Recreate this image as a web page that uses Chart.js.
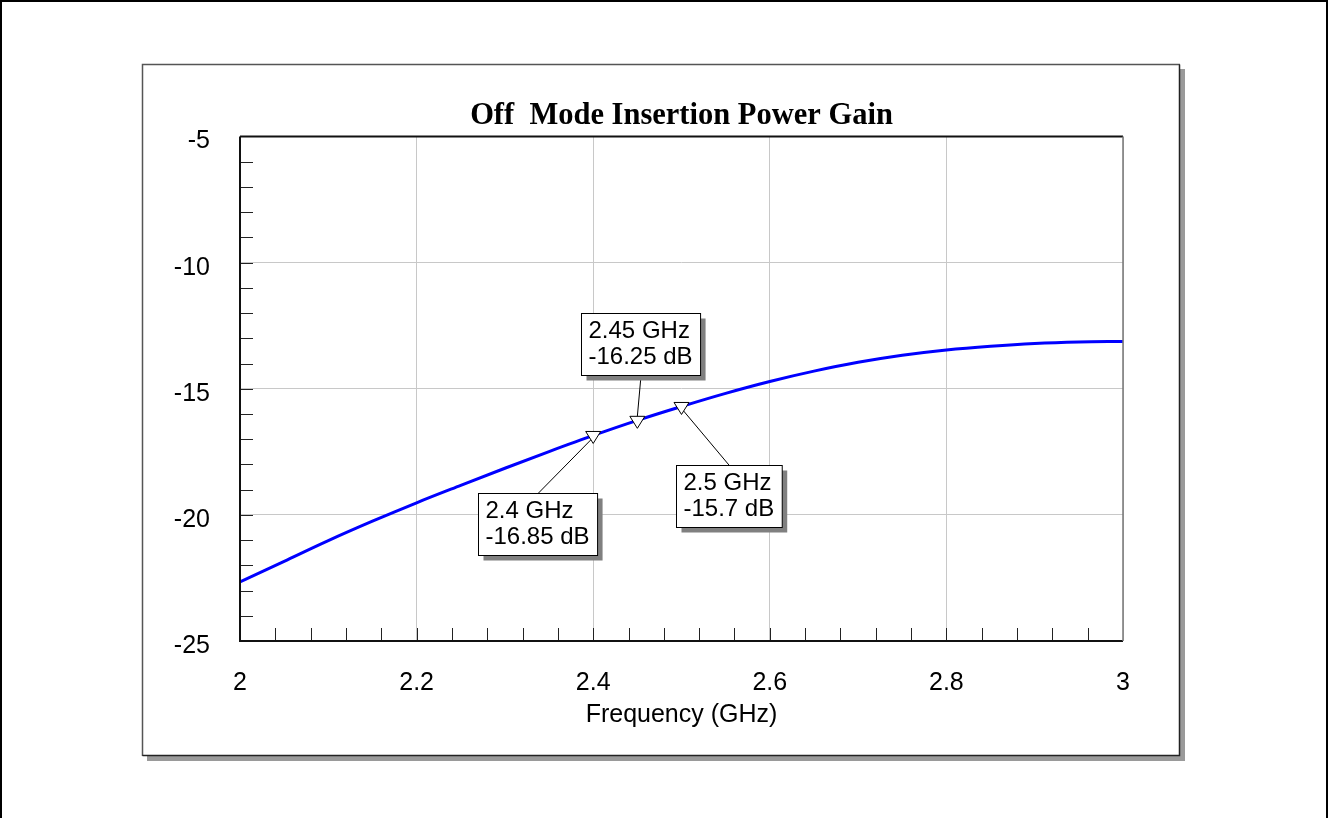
<!DOCTYPE html>
<html>
<head>
<meta charset="utf-8">
<script src="https://cdn.jsdelivr.net/npm/chart.js@4/dist/chart.umd.min.js"></script>
<style>
  body { margin: 0; background: #fff; }
  canvas { display: block; }
</style>
</head>
<body>
<canvas id="graph" width="1331" height="818"></canvas>
<script>
// curve data
const freqGHz = [2.00, 2.05, 2.10, 2.15, 2.20, 2.25, 2.30, 2.35, 2.40, 2.45, 2.50,
                 2.55, 2.60, 2.65, 2.70, 2.75, 2.80, 2.85, 2.90, 2.95, 3.00];
const gainDb = [-22.66, -21.84, -21.02, -20.25, -19.52, -18.83, -18.15, -17.49, -16.85, -16.25, -15.70,
                -15.18, -14.71, -14.30, -13.95, -13.67, -13.46, -13.31, -13.20, -13.14, -13.12];

// marker annotations
const markerFreq = [2.4, 2.45, 2.5];
const markerGain = [-16.85, -16.25, -15.7];
const markerText = [['2.4 GHz', '-16.85 dB'], ['2.45 GHz', '-16.25 dB'], ['2.5 GHz', '-15.7 dB']];
// where each label box sits, relative to its marker (px)
const boxOffset = [[-115, 58], [-56, -107], [-6, 59]];

const xMin = 2, xMax = 3, xStep = 0.2, xMinorStep = 0.04;
const yMin = -25, yMax = -5, yStep = 5, yMinorStep = 1;

const SANS = '"Liberation Sans", Arial, sans-serif';

// page border, framed panel with its shadow
const panelPlugin = {
    id: 'panel',
    beforeDraw(chart) {
        const ctx = chart.ctx;
        ctx.save();
        ctx.fillStyle = '#fff';
        ctx.fillRect(0, 0, chart.width, chart.height);
        ctx.strokeStyle = '#000';
        ctx.lineWidth = 2;
        ctx.beginPath();
        ctx.moveTo(1, chart.height);
        ctx.lineTo(1, 1);
        ctx.lineTo(1327, 1);
        ctx.lineTo(1327, chart.height);
        ctx.stroke();

        // shadow
        ctx.fillStyle = '#9a9a9a';
        ctx.fillRect(147, 69, 1038, 692);
        ctx.fillStyle = '#fff';
        ctx.fillRect(142, 64, 1038, 692);
        ctx.lineWidth = 1.5;
        ctx.strokeStyle = '#555';
        ctx.beginPath();
        ctx.moveTo(142.5, 756);
        ctx.lineTo(142.5, 64.5);
        ctx.lineTo(1180, 64.5);
        ctx.stroke();
        ctx.strokeStyle = '#222';
        ctx.beginPath();
        ctx.moveTo(1179.5, 64.5);
        ctx.lineTo(1179.5, 755.5);
        ctx.lineTo(142.5, 755.5);
        ctx.stroke();
        ctx.restore();
    },
    afterDatasetsDraw(chart) {
        const ctx = chart.ctx;
        const a = chart.chartArea;
        const xs = chart.scales.x, ys = chart.scales.y;
        ctx.save();

        // minor ticks, pointing inwards
        ctx.strokeStyle = '#222';
        ctx.lineWidth = 1;
        ctx.beginPath();
        for (let v = xMin + xMinorStep; v < xMax - 1e-6; v += xMinorStep) {
            const px = Math.round(xs.getPixelForValue(v)) + 0.5;
            ctx.moveTo(px, a.bottom);
            ctx.lineTo(px, a.bottom - 13);
        }
        for (let v = yMin + yMinorStep; v < yMax - 1e-6; v += yMinorStep) {
            const py = Math.round(ys.getPixelForValue(v)) + 0.5;
            ctx.moveTo(a.left, py);
            ctx.lineTo(a.left + 13, py);
        }
        ctx.stroke();

        // plot border
        ctx.lineWidth = 2;
        ctx.strokeStyle = '#111';
        ctx.beginPath();
        ctx.moveTo(a.left, a.top);
        ctx.lineTo(a.right, a.top);
        ctx.moveTo(a.left, a.top);
        ctx.lineTo(a.left, a.bottom);
        ctx.lineTo(a.right, a.bottom);
        ctx.stroke();
        ctx.strokeStyle = '#777';
        ctx.lineWidth = 1.5;
        ctx.beginPath();
        ctx.moveTo(a.right, a.top);
        ctx.lineTo(a.right, a.bottom);
        ctx.stroke();

        // markers with label boxes
        ctx.font = '24px ' + SANS;
        for (let i = 0; i < markerFreq.length; i++) {
            const px = xs.getPixelForValue(markerFreq[i]);
            const py = ys.getPixelForValue(markerGain[i]);
            const lines = markerText[i];
            const w = Math.max(...lines.map(t => ctx.measureText(t).width)) + 15;
            const h = 62;
            const bx = Math.round(px + boxOffset[i][0]) + 0.5;
            const by = Math.round(py + boxOffset[i][1]) + 0.5;
            const ax = bx + w / 2;
            const above = by + h < py;

            // leader line
            ctx.strokeStyle = '#000';
            ctx.lineWidth = 1;
            ctx.beginPath();
            ctx.moveTo(ax, above ? by + h : by);
            ctx.lineTo(px, above ? py - 4 : py + 2);
            ctx.stroke();

            // box shadow, box, text
            ctx.fillStyle = '#808080';
            ctx.fillRect(bx + 5, by + 5, w, h);
            ctx.fillStyle = '#fff';
            ctx.fillRect(bx, by, w, h);
            ctx.strokeRect(bx, by, w, h);
            ctx.fillStyle = '#000';
            ctx.textAlign = 'left';
            ctx.textBaseline = 'middle';
            ctx.fillText(lines[0], bx + 7, by + 18);
            ctx.fillText(lines[1], bx + 7, by + 44);

            // open down-pointing triangle
            ctx.fillStyle = '#fff';
            ctx.beginPath();
            ctx.moveTo(px - 7.5, py - 4);
            ctx.lineTo(px + 7.5, py - 4);
            ctx.lineTo(px, py + 8);
            ctx.closePath();
            ctx.fill();
            ctx.stroke();
        }
        ctx.restore();
    }
};

const ctx = document.getElementById('graph').getContext('2d');
window.chartx = new Chart(ctx, {
    type: 'line',
    data: {
        datasets: [{
            label: 'Gain',
            data: freqGHz.map((f, i) => ({ x: f, y: gainDb[i] })),
            borderColor: '#0000ff',
            borderWidth: 3,
            pointRadius: 0,
            cubicInterpolationMode: 'monotone',
            fill: false,
        }],
    },
    options: {
        responsive: false,
        animation: false,
        devicePixelRatio: 1,
        layout: {
            padding: { top: 80, right: 208, bottom: 0, left: 0 }
        },
        plugins: {
            legend: { display: false },
            tooltip: { enabled: false },
            title: {
                display: true,
                fullSize: false,
                text: 'Off  Mode Insertion Power Gain',
                color: '#000',
                font: { family: '"Liberation Serif", "Times New Roman", serif', size: 30.5, weight: 'bold' },
                padding: { top: 18, bottom: 2 },
            },
        },
        scales: {
            x: {
                type: 'linear',
                min: xMin,
                max: xMax,
                afterFit: (scale) => { scale.height = 177; },
                ticks: {
                    stepSize: xStep,
                    color: '#000',
                    padding: 27,
                    maxRotation: 0,
                    font: { family: SANS, size: 25 },
                    callback: (v) => String(Math.round(v * 10) / 10),
                },
                grid: { color: '#c8c8c8', lineWidth: 1, drawTicks: false },
                border: { display: false },
                title: {
                    display: true,
                    text: 'Frequency (GHz)',
                    color: '#000',
                    font: { family: SANS, size: 25 },
                    padding: { top: 0, bottom: 88 },
                },
            },
            y: {
                type: 'linear',
                min: yMin,
                max: yMax,
                afterFit: (scale) => { scale.width = 240; },
                ticks: {
                    stepSize: yStep,
                    color: '#000',
                    padding: 30,
                    labelOffset: 5,
                    font: { family: SANS, size: 25 },
                },
                grid: { color: '#c8c8c8', lineWidth: 1, drawTicks: false },
                border: { display: false },
            },
        },
    },
    plugins: [panelPlugin],
});
</script>
</body>
</html>
